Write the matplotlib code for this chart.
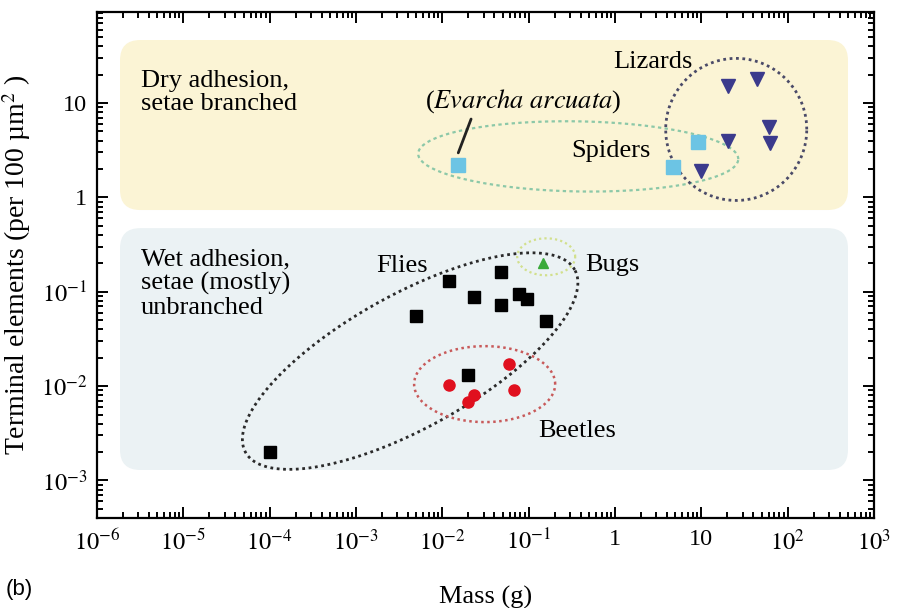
import numpy as np
import matplotlib
matplotlib.use("Agg")
import matplotlib.pyplot as plt
from matplotlib.patches import FancyBboxPatch
from matplotlib.ticker import LogLocator, FuncFormatter, NullFormatter

plt.rcParams["font.family"] = ["Liberation Serif", "DejaVu Serif"]
plt.rcParams["mathtext.fontset"] = "stix"

# ------------------------------
# Datos: masa (g) y densidad de elementos terminales (por 100 µm²)
# ------------------------------
moscas_masa = [1e-4, 5e-3, 0.012, 0.023, 0.048, 0.048, 0.078, 0.095, 0.16, 0.020]
moscas_dens = [2.0e-3, 0.055, 0.13, 0.088, 0.16, 0.073, 0.095, 0.084, 0.049, 0.013]

escarabajos_masa = [0.012, 0.023, 0.020, 0.059, 0.068]
escarabajos_dens = [0.0102, 0.0080, 0.0068, 0.0171, 0.0091]

chinches_masa = [0.147]
chinches_dens = [0.203]

aranas_masa = [0.015, 9.2, 4.7]
aranas_dens = [2.18, 3.9, 2.1]

lagartos_masa = [20.5, 44.5, 60, 63, 20.5, 10]
lagartos_dens = [15, 18, 5.6, 3.8, 4.0, 1.88]

# Elipses de agrupacion en decadas: centro log10(x), log10(y), semiejes, angulo
elipses = {
    "moscas": (-2.373, -1.735, 2.18, 0.772, 29),
    "escarabajos": (-1.510, -1.979, 0.817, 0.44, 0),
    "chinches": (-0.797, -0.630, 0.336, 0.214, 0),
    "aranas": (-0.426, 0.434, 1.854, 0.406, -1),
    "lagartos": (1.404, 0.720, 0.817, 0.823, 0),
}

xlim = (1e-6, 1e3)
ylim = (4e-4, 92)

fig = plt.figure(figsize=(8.99, 6.08), dpi=100)
ax = fig.add_axes([0.1079, 0.148, 0.8643, 0.8322])
ax.set_xscale("log")
ax.set_yscale("log")
ax.set_xlim(*xlim)
ax.set_ylim(*ylim)

# relacion alto/ancho de una decada en pixeles
ancho_px = fig.get_figwidth() * fig.dpi * 0.8643
alto_px = fig.get_figheight() * fig.dpi * 0.8322
ky = (alto_px / np.log10(ylim[1] / ylim[0])) / (ancho_px / np.log10(xlim[1] / xlim[0]))


def puntos_elipse(cx, cy, a, b, ang):
    t = np.linspace(0, 2 * np.pi, 400)
    A = np.radians(ang)
    u = a * np.cos(t)
    v = b * np.sin(t)
    X = u * np.cos(A) - v * np.sin(A)
    Y = (u * np.sin(A) + v * np.cos(A)) / ky
    return 10 ** (cx + X), 10 ** (cy + Y)


# Zonas de fondo con esquinas redondeadas
asp = ancho_px / alto_px
zona_seca = FancyBboxPatch((0.0296, 0.6087), 0.9369, 0.336,
                           boxstyle="round,pad=0,rounding_size=0.026",
                           mutation_aspect=asp, transform=ax.transAxes,
                           facecolor="#fbf4d5", edgecolor="none", zorder=0)
zona_humeda = FancyBboxPatch((0.0296, 0.0949), 0.9369, 0.478,
                             boxstyle="round,pad=0,rounding_size=0.026",
                             mutation_aspect=asp, transform=ax.transAxes,
                             facecolor="#ebf2f4", edgecolor="none", zorder=0)
ax.add_patch(zona_seca)
ax.add_patch(zona_humeda)

estilos = {
    "moscas": dict(color="#2a2a2a", lw=2.0, ls=(0, (1, 1.3))),
    "escarabajos": dict(color="#c85a5a", lw=1.8, ls=(0, (1, 1.4))),
    "chinches": dict(color="#d2e08c", lw=1.6, ls=(0, (1, 1.4))),
    "aranas": dict(color="#8cc8a8", lw=1.6, ls=(0, (1.5, 1.5))),
    "lagartos": dict(color="#4a4a68", lw=2.0, ls=(0, (1, 1.3))),
}
for nombre, params in elipses.items():
    ex, ey = puntos_elipse(*params)
    ax.plot(ex, ey, zorder=2, **estilos[nombre])

# Puntos
ax.plot(moscas_masa, moscas_dens, "s", color="black", ms=9, zorder=3)
ax.plot(escarabajos_masa, escarabajos_dens, "o", color="#e0101e", ms=8, zorder=3)
ax.plot(chinches_masa, chinches_dens, "^", color="#3aaa3a", ms=7, zorder=3)
ax.plot(aranas_masa, aranas_dens, "s", color="#6cc4e4", ms=9.5, zorder=3)
ax.plot(lagartos_masa, lagartos_dens, "v", color="#3b3a8c", ms=9.5, zorder=3)

# Textos
fs = 19
ax.text(3.2e-6, 12.9, "Dry adhesion,\nsetae branched", fontsize=fs,
        ha="left", va="center", linespacing=1.05, zorder=4)
ax.text(3.2e-6, 0.122, "Wet adhesion,\nsetae (mostly)\nunbranched", fontsize=fs,
        ha="left", va="center", linespacing=1.1, zorder=4)
ax.text(7.85, 27.5, "Lizards", fontsize=fs, ha="right", va="center", zorder=4)
ax.text(0.0863, 10.4, r"($\it{Evarcha\ arcuata}$)", fontsize=fs,
        ha="center", va="center", zorder=4)
ax.text(0.904, 3.07, "Spiders", fontsize=fs, ha="center", va="center", zorder=4)
ax.text(0.452, 0.193, "Bugs", fontsize=fs, ha="left", va="center", zorder=4)
ax.text(6.84e-3, 0.188, "Flies", fontsize=fs, ha="right", va="center", zorder=4)
ax.text(0.129, 3.34e-3, "Beetles", fontsize=fs, ha="left", va="center", zorder=4)

ax.annotate("", xy=(0.0149, 2.78), xytext=(0.0221, 7.2),
            arrowprops=dict(arrowstyle="-", color="#222222", lw=2), zorder=4)

# Ejes
def formato_log(v, pos):
    e = int(round(np.log10(v)))
    if e == 0:
        return "1"
    if e == 1:
        return "10"
    return r"$10^{%d}$" % e


for eje in (ax.xaxis, ax.yaxis):
    eje.set_major_locator(LogLocator(base=10, numticks=20))
    eje.set_minor_locator(LogLocator(base=10, subs=np.arange(2, 10), numticks=20))
    eje.set_major_formatter(FuncFormatter(formato_log))
    eje.set_minor_formatter(NullFormatter())

ax.tick_params(which="both", direction="in", top=True, right=True, width=1.4)
ax.tick_params(which="major", length=8, labelsize=17.5)
ax.tick_params(which="minor", length=4)
ax.tick_params(axis="x", which="major", pad=8)
ax.tick_params(axis="y", which="major", pad=7)
for s in ax.spines.values():
    s.set_linewidth(1.6)

ax.set_xlabel("Mass (g)", fontsize=19, labelpad=22)
ax.set_ylabel(r"Terminal elements (per 100 µm$^2$ )", fontsize=20, labelpad=6)

fig.text(0.006, 0.03, "(b)", fontsize=16, family=["Liberation Sans", "DejaVu Sans"],
         ha="left", va="center")

fig.savefig("out.png", dpi=100)
